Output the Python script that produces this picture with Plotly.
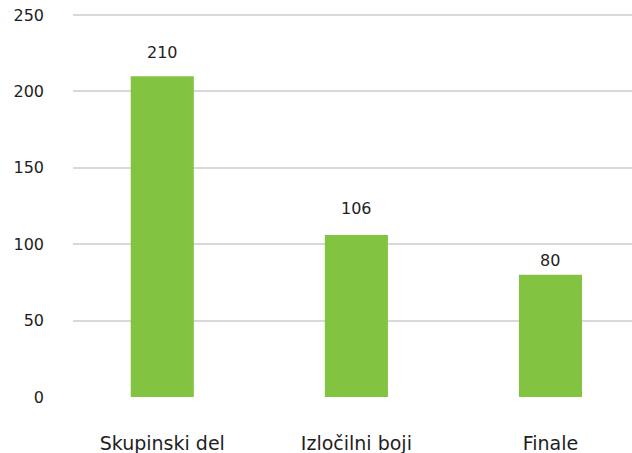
import plotly.graph_objects as go

categories = ["Skupinski del", "Izločilni boji", "Finale"]
values = [210, 106, 80]
y_ticks = [0, 50, 100, 150, 200, 250]

# per-label vertical offsets (px) of value labels above bars
label_shift = [12, 15, 3]

GREEN = "#82C341"
TEXT = "#1e1e1e"
FONT = "DejaVu Sans"

fig = go.Figure()
fig.add_trace(go.Bar(
    x=categories, y=values, marker=dict(color=GREEN, line=dict(width=0)),
    hoverinfo="skip",
))
for c, v, s in zip(categories, values, label_shift):
    fig.add_annotation(x=c, y=v, text=str(v), showarrow=False,
                       yanchor="bottom", yshift=s,
                       font=dict(family=FONT, size=16, color=TEXT))

fig.update_layout(
    width=632, height=453,
    margin=dict(l=73, r=0, t=12, b=56),
    paper_bgcolor="white", plot_bgcolor="white",
    bargap=0.675, showlegend=False,
    font=dict(family=FONT, size=16, color=TEXT),
)
fig.update_xaxes(range=[-0.46, 2.42], showgrid=False, zeroline=False,
                 showline=False, ticks="", ticklabelstandoff=33,
                 tickfont=dict(family=FONT, size=19, color=TEXT))
fig.update_yaxes(range=[0, 252], tickvals=y_ticks, showgrid=True,
                 gridcolor="#D9D9D9", gridwidth=2, zeroline=False,
                 showline=False, ticks="", ticklabelstandoff=28,
                 tickfont=dict(family=FONT, size=16, color=TEXT))

fig.write_html("out.html", config={"displayModeBar": False},
               post_script="document.body.style.margin='0';")
